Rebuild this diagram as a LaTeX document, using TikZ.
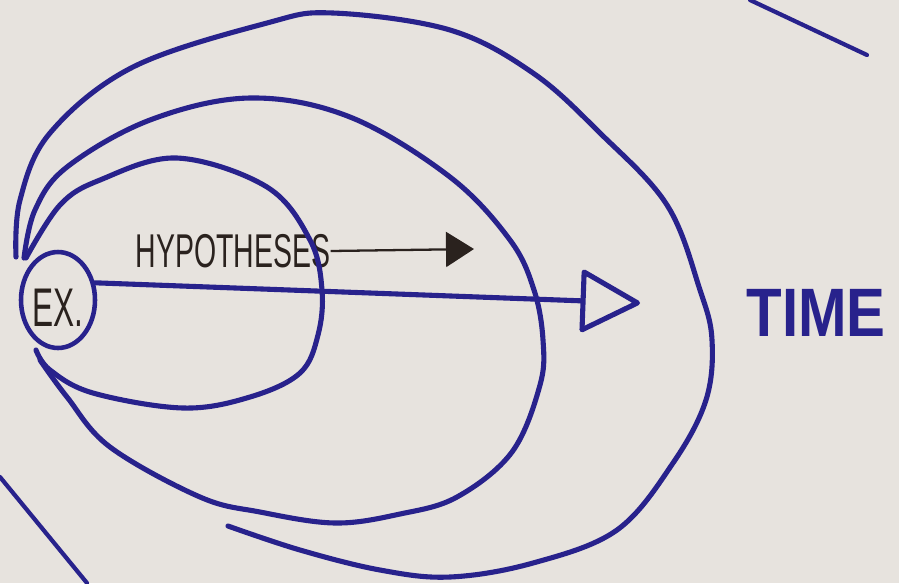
\documentclass[tikz,border=0pt]{standalone}
\usepackage{fontspec}
\setmainfont{Liberation Sans}
\usepackage{xcolor}
\usepackage{tikz}
\usetikzlibrary{arrows.meta,shapes.geometric}
\definecolor{ink}{RGB}{40,34,140}
\definecolor{paper}{RGB}{231,227,222}
\definecolor{pencil}{RGB}{42,34,30}

\begin{document}
\begin{tikzpicture}[
  x=0.02cm, y=-0.02cm,
  loop/.style={draw=ink,line width=2.9pt,line cap=round,line join=round},
  exbox/.style={ellipse,draw=ink,line width=2.6pt,inner sep=0pt,minimum width=1.48cm,minimum height=1.92cm,
    text height=30pt,text depth=0pt,text=pencil,font=\fontsize{31}{31}\selectfont},
  hyptext/.style={inner sep=0pt,text=pencil,font=\fontsize{27}{27}\selectfont},
  timetext/.style={inner sep=0pt,text=ink,font=\bfseries\fontsize{39}{39}\selectfont},
  mainarr/.style={loop,-{Triangle[open,length=12.5mm,width=13mm,round]}},
  hyparr/.style={draw=pencil,line width=1.3pt,-{Triangle[length=5.6mm,width=7mm]}}
]
  \fill[paper] (0,0) rectangle (899,583);
  \useasboundingbox (0,0) rectangle (899,583);

  \node[exbox] (ex) at (58,300) {\scalebox{0.58}[1]{EX.}};
  \node[hyptext] (hyp) at (233,251) {\scalebox{0.6}[1]{HYPOTHESES}};
  \node[timetext] (time) at (816,313) {\scalebox{0.85}[1]{TIME}};
  \coordinate (hyptip) at (474,249);
  \coordinate (timetip) at (640,303);

  \draw[loop] plot[smooth,tension=0.6] coordinates {(26,258) (60,205) (100,180) (177,158) (267,187) (310,240)
    (322,290) (318,335) (300,373) (250,397) (183,408) (93,393) (50,370) (36,350)};
  \draw[loop] plot[smooth,tension=0.6] coordinates {(24,258) (35,210) (67,167) (150,120) (250,98) (350,117)
    (450,177) (510,240) (534,290) (543,340) (540,385) (512,452) (457,497) (400,514) (335,523) (260,512)
    (200,497) (110,447) (67,397) (40,360)};
  \draw[loop] plot[smooth,tension=0.6] coordinates {(16,257) (20,200) (50,133) (133,67) (267,23) (333,13)
    (450,30) (533,73) (600,133) (667,205) (700,290) (712,340) (706,400) (673,463) (617,530) (533,563)
    (450,577) (380,570) (300,550) (228,526)};

  \draw[mainarr] (ex.25) -- (timetip);
  \draw[hyparr] (hyp.east) -- (hyptip);

  \draw[loop,line width=2.4pt] (750,0) -- (867,55);
  \draw[loop,line width=2.4pt] (0,477) -- (87,583);
\end{tikzpicture}
\end{document}
